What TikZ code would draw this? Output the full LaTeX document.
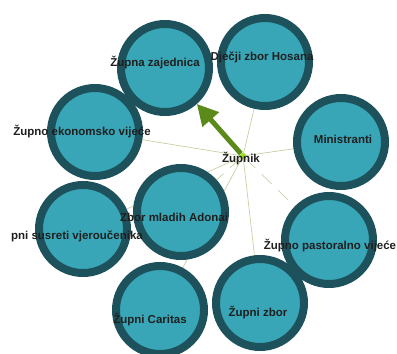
\documentclass[tikz,border=0pt]{standalone}
\usepackage{fontspec}
\setmainfont{Liberation Sans}
\usepackage{xcolor}
\usetikzlibrary{arrows.meta}
\definecolor{ringdark}{HTML}{1D525C}
\definecolor{ringfill}{HTML}{38A6B7}
\definecolor{linkgreen}{HTML}{C9CFA3}
\definecolor{arrowgreen}{HTML}{5B8A1B}
\definecolor{dotgreen}{HTML}{9BE01F}

\begin{document}
\begin{tikzpicture}[x=1pt, y=-1pt,
  grp/.style={circle, draw=ringdark, line width=8pt, fill=ringfill, minimum size=88pt, inner sep=0pt, outer sep=4pt},
  lbl/.style={font=\bfseries\fontsize{11.5}{13}\selectfont, text=black!88, inner sep=0pt},
  link/.style={draw=linkgreen, line width=0.7pt},
  dlink/.style={link, dash pattern=on 14pt off 9pt},
  >={Triangle[length=21pt, width=21pt]}]
  \useasboundingbox (0,0) rectangle (397,354);
  \clip (0,0) rectangle (397,354);
  % centre
  \node[circle, fill=dotgreen, minimum size=6pt, inner sep=0pt] (zupnik) at (243,156) {};
  \coordinate (cZaj) at (165,68);
  \coordinate (cHos) at (265,62);
  \coordinate (cMin) at (341,142);
  \coordinate (cEko) at (95,132);
  \coordinate (cAdo) at (181,212);
  \coordinate (cSus) at (83,229);
  \coordinate (cCar) at (160,310);
  \coordinate (cZbo) at (260,303);
  \coordinate (cPas) at (329,240);
  % links
  \draw[link]  (zupnik) -- (cHos);
  \draw[link]  (zupnik) -- (cMin);
  \draw[link]  (zupnik) -- (cEko);
  \draw[link]  (zupnik) -- (cSus);
  \draw[link]  (zupnik) -- (cCar);
  \draw[link]  (zupnik) -- (cZbo);
  \draw[dlink] (zupnik) -- (cAdo);
  \draw[dlink] (zupnik) -- (cPas);
  % circles
  \node[grp] (zajednica) at (cZaj) {};
  \node[grp] (hosana)    at (cHos) {};
  \node[grp] (ministranti) at (cMin) {};
  \node[grp] (ekonomsko) at (cEko) {};
  \node[grp] (susreti)   at (cSus) {};
  \node[grp] (adonai)    at (cAdo) {};
  \node[grp] (caritas)   at (cCar) {};
  \node[grp] (pastoralno) at (cPas) {};
  \node[grp] (zbor)      at (cZbo) {};
  % arrow
  \draw[->, arrowgreen, line width=5pt] (zupnik) -- (zajednica);
  \node[circle, fill=dotgreen, minimum size=6pt, inner sep=0pt] at (zupnik) {};
  % labels
  \node[lbl] (zajednica-l)   at (155,63)  {Župna zajednica};
  \node[lbl] (hosana-l)      at (262,57)  {Dječji zbor Hosana};
  \node[lbl] (ministranti-l) at (343,139) {Ministranti};
  \node[lbl] (ekonomsko-l)   at (82,132)  {Župno ekonomsko vijeće};
  \node[lbl] (zupnik-l)      at (241,159) {Župnik};
  \node[lbl] (adonai-l)      at (174,217) {Zbor mladih Adonai};
  \node[lbl, anchor=east] (susreti-l) at (143,236) {pni susreti vjeroučenika};
  \node[lbl] (caritas-l)     at (150,320) {Župni Caritas};
  \node[lbl] (zbor-l)        at (258,313) {Župni zbor};
  \node[lbl] (pastoralno-l)  at (330,246) {Župno pastoralno vijeće};
\end{tikzpicture}
\end{document}
